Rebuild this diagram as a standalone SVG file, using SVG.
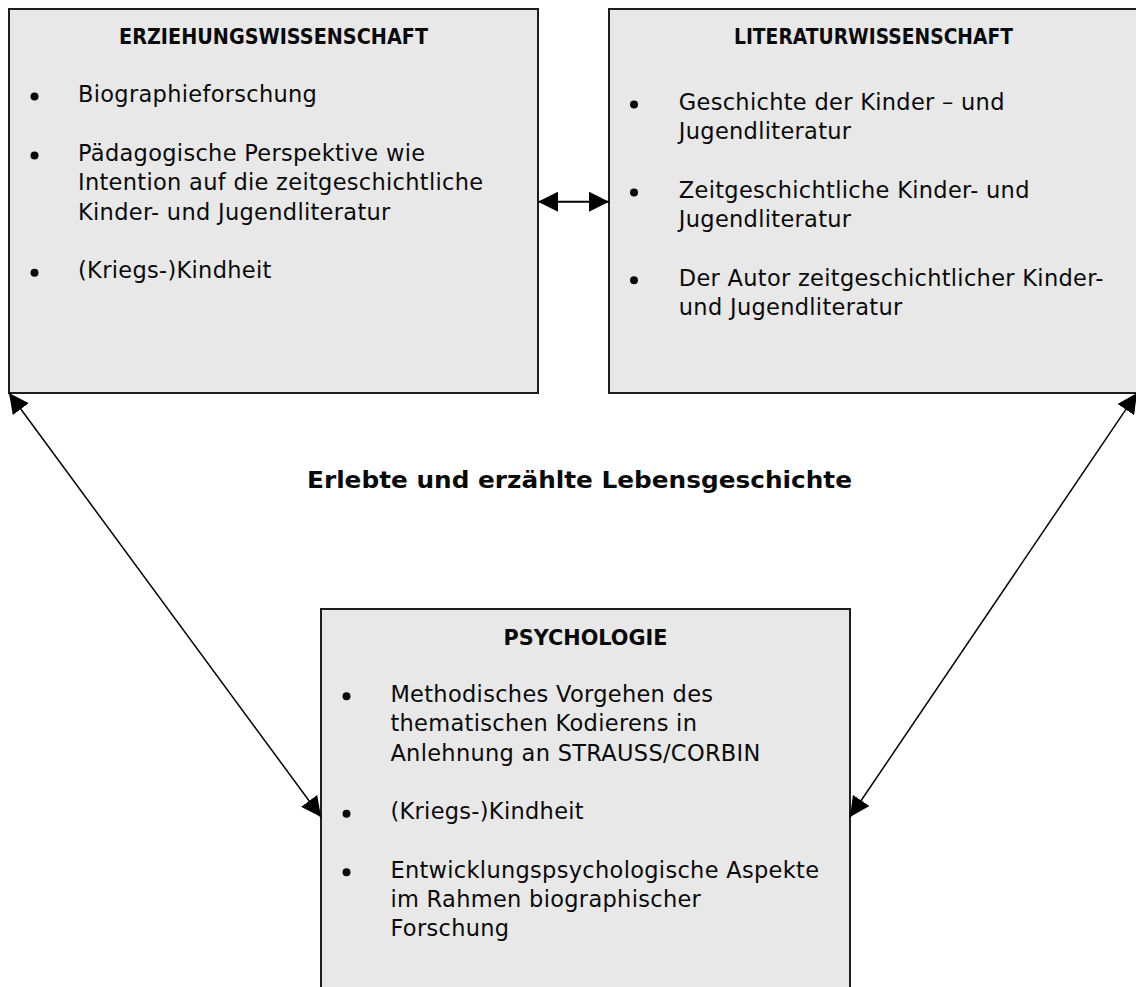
<svg xmlns="http://www.w3.org/2000/svg" width="1136" height="987" viewBox="0 0 1136 987">
<style>
.box{fill:#e8e8e8;stroke:#1e1e1e;stroke-width:2}
.t{font-family:"DejaVu Sans",sans-serif;font-size:22.5px;letter-spacing:0.3px;fill:#0a0a0a}
.h{font-family:"DejaVu Sans",sans-serif;font-size:21.5px;font-weight:bold;fill:#0a0a0a;text-anchor:middle}
.big{font-family:"DejaVu Sans",sans-serif;font-size:23.5px;font-weight:bold;fill:#0a0a0a;text-anchor:middle}
.b{fill:#0a0a0a}
.c{stroke:#000;fill:none}
</style>
<defs>
<marker id="ah" markerUnits="userSpaceOnUse" markerWidth="20" markerHeight="20" viewBox="0 0 20 20" refX="20" refY="10" orient="auto-start-reverse">
<path d="M0,0 L20,10 L0,20 z" fill="#000"/>
</marker>
</defs>
<rect width="1136" height="987" fill="#fff"/>
<g id="erziehung">
<rect class="box" x="9" y="9" width="529" height="384"/>
<text class="h" x="273.5" y="44" textLength="309" lengthAdjust="spacingAndGlyphs">ERZIEHUNGSWISSENSCHAFT</text>
<circle class="b" cx="34.5" cy="96.5" r="4"/>
<text class="t" x="78" y="102">Biographieforschung</text>
<circle class="b" cx="34.5" cy="155.5" r="4"/>
<text class="t" x="78" y="161">Pädagogische Perspektive wie</text>
<text class="t" x="78" y="190.3">Intention auf die zeitgeschichtliche</text>
<text class="t" x="78" y="219.6">Kinder- und Jugendliteratur</text>
<circle class="b" cx="34.5" cy="272.7" r="4"/>
<text class="t" x="78" y="278.2">(Kriegs-)Kindheit</text>
</g>
<g id="literatur">
<rect class="box" x="609" y="9" width="529" height="384"/>
<text class="h" x="873.5" y="44" textLength="279" lengthAdjust="spacingAndGlyphs">LITERATURWISSENSCHAFT</text>
<circle class="b" cx="634" cy="104.5" r="4"/>
<text class="t" x="678.8" y="110">Geschichte der Kinder – und</text>
<text class="t" x="678.8" y="139.3">Jugendliteratur</text>
<circle class="b" cx="634" cy="192.5" r="4"/>
<text class="t" x="678.8" y="198">Zeitgeschichtliche Kinder- und</text>
<text class="t" x="678.8" y="227.3">Jugendliteratur</text>
<circle class="b" cx="634" cy="280.3" r="4"/>
<text class="t" x="678.8" y="285.8">Der Autor zeitgeschichtlicher Kinder-</text>
<text class="t" x="678.8" y="315.1">und Jugendliteratur</text>
</g>
<g id="psychologie">
<rect class="box" x="321" y="609" width="529" height="400"/>
<text class="h" x="585.5" y="645" textLength="164" lengthAdjust="spacingAndGlyphs">PSYCHOLOGIE</text>
<circle class="b" cx="346.5" cy="696.3" r="4"/>
<text class="t" x="390.4" y="702">Methodisches Vorgehen des</text>
<text class="t" x="390.4" y="731.3">thematischen Kodierens in</text>
<text class="t" x="390.4" y="760.6">Anlehnung an STRAUSS/CORBIN</text>
<circle class="b" cx="346.5" cy="813.7" r="4"/>
<text class="t" x="390.4" y="819.2">(Kriegs-)Kindheit</text>
<circle class="b" cx="346.5" cy="872.3" r="4"/>
<text class="t" x="390.4" y="877.8">Entwicklungspsychologische Aspekte</text>
<text class="t" x="390.4" y="907.1">im Rahmen biographischer</text>
<text class="t" x="390.4" y="936.4">Forschung</text>
</g>
<g id="center-label">
<text class="big" x="579.5" y="488" textLength="545" lengthAdjust="spacingAndGlyphs">Erlebte und erzählte Lebensgeschichte</text>
</g>
<g id="connectors">
<line class="c" x1="538" y1="201.7" x2="609" y2="201.7" stroke-width="2" marker-start="url(#ah)" marker-end="url(#ah)"/>
<line class="c" x1="9" y1="393" x2="321" y2="817" stroke-width="1.5" marker-start="url(#ah)" marker-end="url(#ah)"/>
<line class="c" x1="1137" y1="393" x2="850" y2="817" stroke-width="1.5" marker-start="url(#ah)" marker-end="url(#ah)"/>
</g>
</svg>
